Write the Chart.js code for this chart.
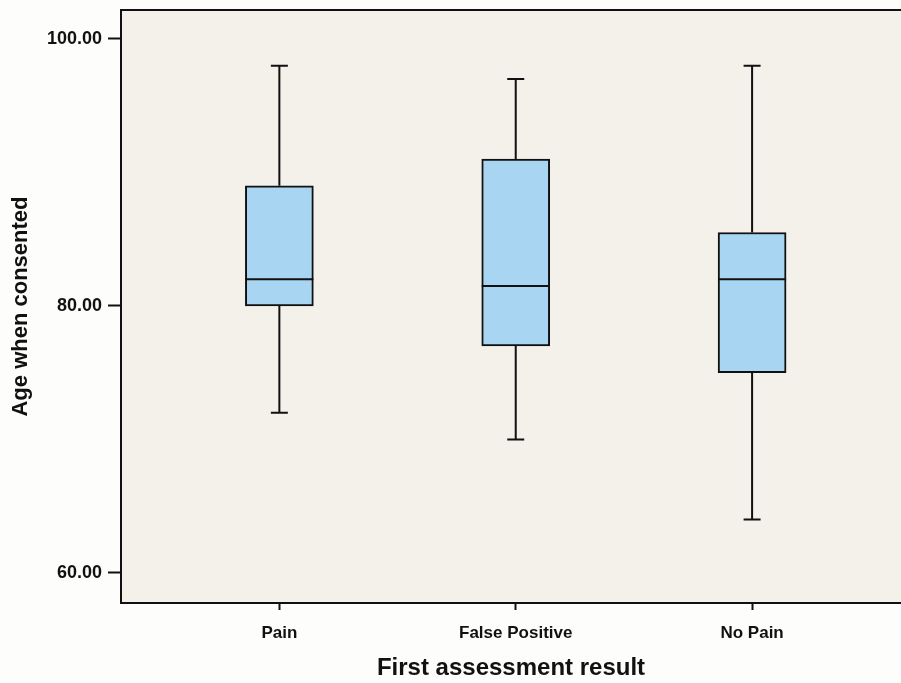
<!DOCTYPE html>
<html>
<head>
<meta charset="utf-8">
<script src="https://cdn.jsdelivr.net/npm/chart.js@4.4.1/dist/chart.umd.min.js"></script>
<style>
  html, body { margin: 0; padding: 0; background: #fdfdfb; }
  #wrap { width: 901px; height: 683px; }
</style>
</head>
<body>
<div id="wrap"><canvas id="box"></canvas></div>
<script>
// Box plot data
const categories = ['Pain', 'False Positive', 'No Pain'];
const whiskerLow = [72, 70, 64];
const q1 = [80, 77, 75];
const median = [82, 81.5, 82];
const q3 = [89, 91, 85.5];
const whiskerHigh = [98, 97, 98];
const yTicks = [60, 80, 100];

const FONT = '"Liberation Sans", Arial, sans-serif';
const INK = '#111';

// Plot background + frame (top/left/bottom; right side is cropped)
const framePlugin = {
    id: 'frame',
    beforeDraw(chart) {
        const { ctx, chartArea: a } = chart;
        ctx.save();
        ctx.fillStyle = '#f3f1ea';
        ctx.fillRect(a.left, a.top, a.right - a.left, a.bottom - a.top);
        ctx.restore();
    },
    afterDraw(chart) {
        const { ctx, chartArea: a } = chart;
        ctx.save();
        ctx.strokeStyle = INK;
        ctx.lineWidth = 2;
        ctx.beginPath();
        ctx.moveTo(a.right, a.top);
        ctx.lineTo(a.left, a.top);
        ctx.lineTo(a.left, a.bottom);
        ctx.lineTo(a.right, a.bottom);
        ctx.stroke();
        ctx.restore();
    }
};

// Whiskers, caps and median lines
const whiskerPlugin = {
    id: 'whiskers',
    afterDatasetsDraw(chart) {
        const { ctx, scales: { x, y } } = chart;
        const bars = chart.getDatasetMeta(0).data;
        const cap = 17;
        ctx.save();
        ctx.strokeStyle = INK;
        ctx.lineWidth = 2;
        categories.forEach((c, i) => {
            const cx = x.getPixelForValue(i + 1);
            const half = bars[i].width / 2;
            ctx.beginPath();
            ctx.moveTo(cx, y.getPixelForValue(q3[i]));
            ctx.lineTo(cx, y.getPixelForValue(whiskerHigh[i]));
            ctx.moveTo(cx, y.getPixelForValue(q1[i]));
            ctx.lineTo(cx, y.getPixelForValue(whiskerLow[i]));
            ctx.moveTo(cx - cap / 2, y.getPixelForValue(whiskerHigh[i]));
            ctx.lineTo(cx + cap / 2, y.getPixelForValue(whiskerHigh[i]));
            ctx.moveTo(cx - cap / 2, y.getPixelForValue(whiskerLow[i]));
            ctx.lineTo(cx + cap / 2, y.getPixelForValue(whiskerLow[i]));
            ctx.moveTo(cx - half, y.getPixelForValue(median[i]));
            ctx.lineTo(cx + half, y.getPixelForValue(median[i]));
            ctx.stroke();
        });
        ctx.restore();
    }
};

new Chart(document.getElementById('box').getContext('2d'), {
    type: 'bar',
    data: {
        datasets: [{
            data: categories.map((c, i) => ({ x: i + 1, y: [q1[i], q3[i]] })),
            backgroundColor: '#a8d6f2',
            borderColor: INK,
            borderWidth: 2,
            borderSkipped: false,
            barThickness: 68
        }]
    },
    options: {
        responsive: true,
        maintainAspectRatio: false,
        animation: false,
        layout: { padding: { top: 10, left: 0, right: 0, bottom: 0 } },
        plugins: { legend: { display: false }, tooltip: { enabled: false } },
        scales: {
            x: {
                type: 'linear',
                offset: false,
                min: 0.33,
                max: 3.63,
                afterBuildTicks: s => { s.ticks = categories.map((c, i) => ({ value: i + 1 })); },
                afterFit: s => { s.height = 80; s.paddingLeft = 0; s.paddingRight = 0; },
                grid: { display: true, offset: false, drawOnChartArea: false, tickLength: 7, tickWidth: 2, tickColor: INK },
                border: { display: false },
                ticks: {
                    callback: v => categories[v - 1],
                    color: INK,
                    padding: 13,
                    maxRotation: 0,
                    font: { family: FONT, size: 17, weight: 'bold' }
                },
                title: {
                    display: true,
                    text: 'First assessment result',
                    color: INK,
                    padding: { top: 0, bottom: 0 },
                    font: { family: FONT, size: 24, weight: 'bold' }
                }
            },
            y: {
                min: 57.75,
                max: 102.17,
                afterBuildTicks: s => { s.ticks = yTicks.map(v => ({ value: v })); },
                afterFit: s => { s.width = 121; s.paddingTop = 0; s.paddingBottom = 0; },
                grid: { display: true, drawOnChartArea: false, tickLength: 13, tickWidth: 2, tickColor: INK },
                border: { display: false },
                ticks: {
                    callback: v => v.toFixed(2),
                    color: INK,
                    padding: 6,
                    font: { family: FONT, size: 18, weight: 'bold' }
                },
                title: {
                    display: true,
                    text: 'Age when consented',
                    color: INK,
                    padding: { top: 8, bottom: 0 },
                    font: { family: FONT, size: 22, weight: 'bold' }
                }
            }
        }
    },
    plugins: [framePlugin, whiskerPlugin]
});
</script>
</body>
</html>
